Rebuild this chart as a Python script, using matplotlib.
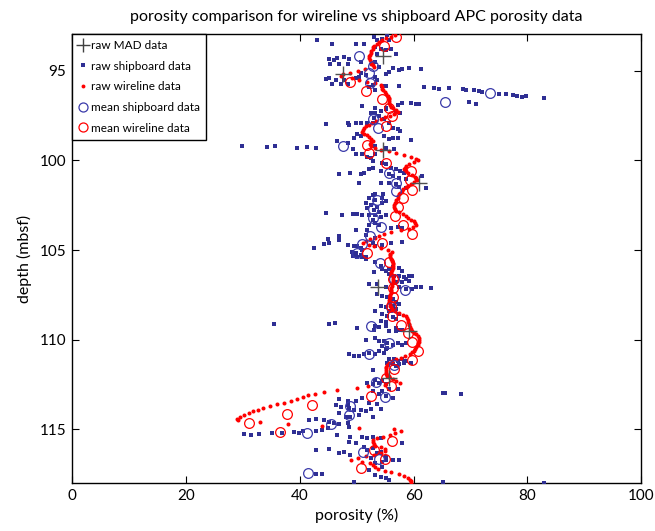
import numpy as np
import matplotlib
matplotlib.use("Agg")
import matplotlib.pyplot as plt
from matplotlib.lines import Line2D

plt.rcParams['font.family'] = ['Lato', 'DejaVu Sans']

# ---------------- data ----------------
# wireline porosity log, sampled every 0.1 m from 93.0 mbsf
wl_top = 93.0
wl_step = 0.1
wl_poro = [
    56.8, 56.0, 55.2, 54.5, 54.0, 53.5, 53.1, 52.9, 52.8, 52.6,
    52.5, 52.4, 52.2, 52.2, 52.3, 52.5, 52.6, 52.9, 53.1, 51.5,
    50.3, 48.9, 47.6, 47.3, 49.2, 50.5, 51.8, 53.3, 54.2, 54.4,
    54.5, 54.7, 54.9, 55.2, 55.5, 55.7, 55.7, 55.6, 55.6, 55.8,
    56.0, 56.4, 57.0, 57.3, 56.6, 55.8, 55.0, 54.2, 53.4, 52.7,
    52.1, 51.6, 51.3, 51.1, 51.0, 51.3, 51.8, 52.2, 52.6, 52.8,
    52.5, 52.3, 52.6, 53.3, 54.3, 55.6, 57.0, 58.3, 59.5, 60.5,
    60.7, 60.0, 59.2, 58.7, 58.5, 58.4, 58.6, 59.1, 59.7, 60.2,
    60.5, 60.6, 60.1, 59.5, 59.0, 58.6, 58.2, 58.0, 57.7, 57.5,
    57.3, 57.2, 57.0, 56.9, 56.7, 56.6, 56.6, 56.7, 57.0, 57.5,
    58.1, 58.6, 59.1, 59.6, 60.0, 60.3, 60.5, 59.9, 59.2, 57.8,
    56.0, 54.8, 54.0, 53.2, 52.4, 51.6, 51.1, 52.1, 53.1, 54.3,
    55.5, 56.2, 55.9, 55.8, 55.9, 56.0, 56.2, 56.3, 56.4, 56.4,
    56.3, 56.2, 56.1, 56.0, 56.1, 56.3, 56.4, 56.3, 56.3, 56.2,
    56.2, 56.1, 56.0, 56.0, 56.0, 55.9, 55.9, 55.8, 55.7, 55.7,
    55.8, 55.9, 56.0, 56.2, 56.7, 57.5, 58.2, 58.7, 58.9, 59.0,
    59.1, 59.2, 59.2, 59.3, 59.5, 59.8, 60.1, 60.4, 60.7, 60.9,
    61.0, 60.9, 60.8, 60.7, 60.5, 60.3, 60.0, 59.7, 59.3, 58.5,
    57.8, 57.0, 56.2, 55.7, 55.4, 55.2, 55.1, 55.1, 55.1, 55.1,
    55.3, 55.7, 56.3, 57.0, 57.7, 55.0, 52.0, 50.0, 46.5, 44.3,
    42.6, 41.5, 40.6, 39.6, 38.5, 37.3, 36.0, 34.8, 33.6, 32.6,
    31.8, 31.0, 30.2, 29.5, 29.0, 29.2, 33.0, 38.0, 44.0, 50.5,
    56.5, 57.8, 56.8, 55.8, 54.6, 53.6, 52.8, 52.9, 53.0, 53.3,
    54.2, 54.9, 55.0, 54.2, 53.0, 51.6, 50.3, 49.0, 51.0, 52.3,
    52.8, 53.3, 53.8, 55.0, 56.0, 57.4, 58.3, 59.0, 59.3, 59.5,
    59.6,
]

# raw MAD data
mad_depth = [94.2, 95.2, 99.42, 101.24, 107.05, 109.52, 112.12]
mad_poro = [54.6, 47.6, 54.7, 61.0, 53.8, 59.2, 55.6]

# mean wireline data
mwl_depth = [93.1, 93.6, 95.63, 96.12, 96.6, 97.1, 97.55, 98.1, 99.12, 99.6,
             100.14, 100.6, 101.07, 101.63, 102.1, 102.62, 103.1, 103.6, 104.12,
             104.63, 105.15, 105.68, 106.62, 107.1, 107.6, 108.13, 108.67, 109.15,
             109.65, 110.15, 110.65, 111.15, 111.62, 112.16, 112.6, 113.12, 113.63,
             114.15, 114.65, 115.16, 115.64, 116.13, 116.66, 117.13]
mwl_poro = [57.0, 54.8, 48.9, 51.6, 54.5, 55.7, 56.2, 55.2, 51.9, 52.2,
            55.1, 59.5, 59.3, 59.7, 58.2, 57.3, 56.7, 58.2, 59.7,
            54.4, 51.9, 55.6, 56.4, 56.4, 56.4, 56.0, 56.2, 57.8,
            59.0, 59.8, 60.7, 59.7, 56.6, 55.2, 56.0, 52.6, 42.2,
            37.8, 31.1, 36.5, 56.2, 53.1, 54.9, 50.8]

# mean shipboard data
msh_depth = [94.2, 94.72, 95.15, 95.71, 96.22, 96.77, 97.68, 98.2, 99.22,
             100.68, 101.26, 101.72, 102.22, 102.73, 103.2, 103.7, 104.21, 104.68,
             105.16, 105.73, 106.64, 107.2, 108.2, 109.24, 110.17, 110.8, 111.4,
             112.38, 113.2, 113.7, 114.17, 114.71, 115.2, 116.26, 116.63, 117.45]
msh_poro = [50.5, 52.9, 52.2, 52.3, 73.4, 65.5, 52.8, 53.8, 47.6,
            55.7, 56.9, 56.9, 53.6, 52.9, 52.9, 54.2, 52.4, 51.0,
            50.0, 54.1, 56.6, 58.5, 56.0, 52.5, 55.7, 52.2, 56.6,
            53.4, 55.0, 48.8, 48.6, 45.5, 41.2, 51.2, 53.9, 41.4]

# raw shipboard data
ship_depth = [
    93.27, 93.50, 93.50, 93.50, 93.13, 93.31, 93.22, 93.03, 93.31, 93.68,
    93.78, 93.87, 93.78, 94.05, 94.05, 94.33, 94.39, 94.28, 94.24, 94.33,
    94.61, 94.61, 94.61, 94.52, 94.52, 94.80, 94.83, 94.95, 94.89, 94.85,
    94.89, 95.08, 95.17, 95.13, 95.35, 95.26, 95.45, 95.41, 95.50, 95.50,
    95.39, 95.73, 95.76, 95.73, 95.35, 95.50, 95.87, 95.87, 95.87, 95.91,
    95.97, 96.00, 95.97, 96.04, 96.06, 96.10, 96.13, 96.17, 96.28, 96.32,
    96.36, 96.43, 96.47, 96.43, 96.51, 96.99, 97.06, 97.06, 96.93, 96.80,
    96.80, 96.88, 96.84, 96.75, 96.88, 96.10, 95.82, 95.91,
    97.95, 97.90, 98.03, 97.90, 97.90, 97.90, 97.90, 97.62, 97.34, 97.34,
    97.25, 97.15, 97.25, 97.34, 97.52, 97.71, 97.90, 98.17, 98.27, 98.36,
    98.51, 98.73, 98.64, 98.64, 98.82, 98.77, 98.73, 98.88, 98.92, 99.01,
    99.20, 99.23, 99.20, 99.29, 99.25, 99.29, 99.38, 99.62, 99.66, 99.85,
    100.03, 99.81, 99.66, 99.29, 99.38, 99.20, 100.12, 100.22, 100.40, 100.50,
    100.59, 100.68, 100.87, 100.74, 100.68, 100.74, 100.68, 100.50, 100.44, 100.59,
    100.77, 100.87, 100.96, 101.05, 101.24, 101.24,
    101.27, 101.27, 101.33, 101.46, 101.55, 101.55, 101.92, 101.89, 101.89, 102.11,
    102.39, 102.48, 102.57, 102.39, 102.29, 102.20, 102.11, 102.67, 102.76, 102.85,
    102.94, 103.04, 102.98, 102.98, 103.04, 103.04, 103.04, 103.13, 103.07, 103.32,
    103.50, 103.59, 103.59, 103.87, 103.87, 103.78, 103.69, 103.78, 104.15, 104.34,
    104.37, 104.24, 104.43, 104.65, 104.62, 104.71, 104.75, 104.80, 104.89, 104.62,
    104.80, 104.71, 104.62, 104.56, 104.86, 105.08, 105.17, 105.27, 105.36, 104.99,
    105.31, 105.40, 105.40, 105.50, 105.68, 105.87, 106.05, 106.15, 106.05, 105.96,
    106.02, 106.15, 106.33, 106.42, 106.42, 106.52, 106.42, 106.46, 106.61, 106.70,
    106.80, 106.80, 106.24, 106.89, 106.89, 107.07, 107.07, 107.17, 107.17, 107.07,
    107.04, 107.11, 107.45, 107.54, 107.63, 107.72, 107.91, 108.00, 108.10, 108.19,
    108.10, 108.37, 108.37, 108.28, 108.56, 108.65, 108.75, 108.84, 108.56, 108.93,
    109.02, 109.12, 109.12, 109.08, 109.36, 109.21, 109.30, 109.25, 109.36, 109.43,
    109.49,
    109.43, 109.52, 109.49, 109.43, 109.99, 109.89, 110.08, 110.08, 110.17, 110.27,
    110.17, 110.27, 110.36, 110.45, 110.54, 110.17, 110.82, 110.88, 110.92, 110.82,
    110.73, 110.82, 110.64, 110.73, 111.10, 111.10, 111.19, 111.10, 111.19, 111.29,
    111.29, 111.38, 111.38, 111.29, 111.47, 111.66, 112.40, 112.49, 112.40, 112.22,
    112.31, 112.49, 112.77, 112.87, 112.87, 113.05, 113.14, 113.24, 112.77, 113.33,
    113.42, 113.42, 113.24, 113.52, 112.96, 112.96, 113.05, 113.61,
    113.64, 113.74, 113.64, 113.83, 113.92, 113.92, 113.96, 113.88, 113.88, 114.11,
    114.29, 114.29, 114.20, 114.29, 114.48, 114.44, 114.48, 114.57, 114.66, 114.70,
    114.66, 114.85, 115.26, 115.31, 115.26, 115.22, 115.18, 115.13, 115.22, 115.07,
    115.07, 115.04, 114.94, 115.31, 115.41, 115.69, 115.41, 115.50, 115.41, 115.50,
    115.78, 115.78, 115.96, 116.15, 116.06, 116.34, 116.24, 116.52, 116.80, 116.71,
    116.15, 116.11, 116.34, 116.24, 116.43, 116.61, 116.89, 117.08, 116.71, 116.71,
    117.26, 117.54, 117.64, 117.73, 117.82, 117.49, 117.51, 117.91, 117.91, 117.97,
]
ship_poro = [
    43.1, 45.7, 49.8, 51.3, 53.1, 53.6, 54.5, 55.4, 55.7, 53.3,
    54.2, 55.1, 56.0, 56.9, 53.6, 45.1, 46.0, 46.6, 47.8, 48.7,
    45.4, 46.9, 48.4, 50.7, 53.3, 54.0, 56.3, 57.5, 58.0, 59.2,
    61.3, 55.7, 55.1, 50.7, 50.4, 51.6, 44.6, 45.1, 46.3, 47.8,
    49.8, 45.7, 47.2, 48.4, 53.3, 53.6, 54.5, 55.1, 57.5, 61.8,
    63.6, 64.5, 66.2, 68.6, 69.2, 70.6, 71.5, 72.1, 75.0, 76.2,
    77.4, 78.2, 79.1, 79.7, 82.9, 51.0, 53.3, 55.1, 57.2, 58.0,
    59.5, 60.4, 61.0, 69.7, 70.9, 53.3, 52.8, 52.2,
    44.6, 48.4, 48.7, 49.8, 50.7, 51.9, 52.8, 53.1, 52.5, 53.3,
    54.2, 55.1, 56.9, 57.7, 53.9, 54.8, 55.7, 56.3, 57.2, 57.7,
    50.1, 49.5, 50.7, 54.8, 55.7, 56.3, 57.2, 59.5, 46.6, 48.4,
    29.9, 34.3, 35.7, 39.6, 41.2, 42.9, 49.3, 49.8, 51.0, 52.5,
    52.8, 51.9, 53.3, 55.1, 56.6, 53.3, 54.5, 55.1, 56.0, 56.9,
    57.7, 58.3, 61.5, 46.9, 48.9, 50.7, 51.3, 52.2, 52.8, 54.2,
    55.7, 56.3, 57.5, 58.6, 50.4, 54.2,
    50.4, 55.7, 56.9, 57.5, 58.6, 62.1, 52.8, 53.3, 54.6, 52.2,
    51.6, 52.5, 53.6, 54.5, 55.1, 53.3, 54.5, 51.9, 53.1, 53.9,
    44.6, 47.5, 49.4, 50.1, 51.0, 52.2, 53.3, 54.2, 55.1, 52.8,
    53.3, 53.9, 52.2, 49.8, 51.9, 56.0, 57.2, 58.0, 51.6, 53.3,
    44.9, 46.9, 46.9, 44.3, 45.1, 48.4, 49.5, 50.1, 50.7, 52.8,
    53.3, 54.5, 56.0, 58.0, 42.5, 49.2, 49.8, 50.7, 51.6, 51.0,
    49.3, 50.1, 51.0, 51.6, 53.3, 54.2, 54.5, 55.1, 55.7, 56.3,
    57.5, 58.0, 55.7, 56.6, 57.5, 58.3, 59.2, 59.8, 58.6, 59.2,
    58.0, 56.9, 53.1, 52.2, 53.6, 55.1, 57.5, 58.6, 59.8, 60.4,
    61.3, 63.0, 53.6, 54.5, 55.4, 56.3, 56.9, 57.5, 56.3, 55.1,
    54.2, 53.3, 55.7, 56.9, 54.5, 55.4, 56.3, 56.9, 57.5, 54.2,
    55.1, 35.5, 45.1, 46.2, 50.1, 53.3, 53.9, 55.1, 56.9, 57.5,
    55.7,
    53.1, 55.7, 56.9, 58.0, 51.6, 53.3, 53.9, 54.8, 55.4, 56.3,
    57.2, 58.0, 54.5, 55.4, 55.1, 58.6, 48.7, 49.5, 50.4, 51.3,
    52.2, 53.3, 53.9, 54.8, 55.7, 56.6, 57.2, 58.0, 58.6, 59.5,
    55.4, 56.3, 57.5, 58.3, 56.9, 52.8, 51.9, 52.8, 53.9, 53.3,
    54.5, 55.1, 55.7, 54.5, 52.8, 53.9, 55.1, 56.3, 57.2, 46.9,
    48.4, 49.8, 51.0, 52.2, 65.1, 65.6, 68.3, 53.6,
    46.3, 47.2, 48.4, 48.7, 49.5, 50.7, 51.6, 52.5, 54.2, 46.9,
    48.1, 48.9, 50.4, 52.8, 41.6, 42.8, 44.3, 45.1, 46.0, 46.9,
    48.4, 48.7, 30.2, 31.4, 32.8, 35.2, 36.9, 39.0, 39.9, 40.5,
    42.8, 44.0, 44.9, 46.6, 48.9, 48.7, 51.0, 51.9, 52.8, 54.2,
    58.0, 49.8, 51.3, 51.9, 52.8, 53.6, 54.2, 55.1, 54.5, 55.1,
    42.8, 45.1, 46.9, 47.8, 48.9, 52.5, 53.3, 54.5, 56.3, 57.5,
    52.2, 53.3, 54.2, 55.1, 55.7, 42.8, 43.9, 49.5, 65.1, 82.9,
]

x_ticks = [0, 20, 40, 60, 80, 100]
y_ticks = [95, 100, 105, 110, 115]

# ---------------- plot ----------------
wl_depth = wl_top + wl_step * np.arange(len(wl_poro))

blue = '#2f2f94'
blue_circ = '#3a3aaa'
red = '#ff0000'

fig = plt.figure(figsize=(6.55, 5.31), dpi=100)
ax = fig.add_axes([0.110, 0.090, 0.869, 0.846])

ax.plot(mad_poro, mad_depth, linestyle='none', marker='+', color='#505050',
        markersize=11, markeredgewidth=1.0, zorder=5)
ax.plot(ship_poro, ship_depth, linestyle='none', marker='s', color=blue,
        markersize=2.4, markeredgewidth=0, zorder=3)
ax.plot(wl_poro, wl_depth, linestyle='none', marker='o', color=red,
        markersize=2.9, markeredgewidth=0, zorder=4)
ax.plot(msh_poro, msh_depth, linestyle='none', marker='o', markerfacecolor='none',
        markeredgecolor=blue_circ, markersize=7, markeredgewidth=0.9, zorder=4)
ax.plot(mwl_poro, mwl_depth, linestyle='none', marker='o', markerfacecolor='none',
        markeredgecolor=red, markersize=7, markeredgewidth=0.9, zorder=4)

ax.set_xlim(0, 100)
ax.set_ylim(118, 92.95)
ax.set_xticks(x_ticks)
ax.set_yticks(y_ticks)
ax.tick_params(direction='in', top=True, right=True, length=5, width=0.8,
               labelsize=11, pad=4)
for s in ax.spines.values():
    s.set_linewidth(1.0)

ax.set_xlabel('porosity (%)', fontsize=11.5, labelpad=4)
ax.set_ylabel('depth (mbsf)', fontsize=11.5, labelpad=6)
ax.set_title('porosity comparison for wireline vs shipboard APC porosity data',
             fontsize=11.5, pad=9)

handles = [
    Line2D([], [], linestyle='none', marker='+', color='#404040', markersize=10, markeredgewidth=1.0),
    Line2D([], [], linestyle='none', marker='s', color=blue, markersize=2.3, markeredgewidth=0),
    Line2D([], [], linestyle='none', marker='o', color=red, markersize=2.8, markeredgewidth=0),
    Line2D([], [], linestyle='none', marker='o', markerfacecolor='none', markeredgecolor=blue_circ,
           markersize=6.5, markeredgewidth=0.9),
    Line2D([], [], linestyle='none', marker='o', markerfacecolor='none', markeredgecolor=red,
           markersize=6.5, markeredgewidth=0.9),
]
labels = ['raw MAD data', 'raw shipboard data', 'raw wireline data',
          'mean shipboard data', 'mean wireline data']
leg = ax.legend(handles, labels, loc='upper left', bbox_to_anchor=(0, 1),
                borderaxespad=0, fontsize=8.5, fancybox=False, framealpha=1,
                edgecolor='black', handlelength=0.8, handletextpad=0.3,
                borderpad=0.5, labelspacing=0.82)
leg.get_frame().set_linewidth(1.0)

fig.savefig('out.png', dpi=100)
